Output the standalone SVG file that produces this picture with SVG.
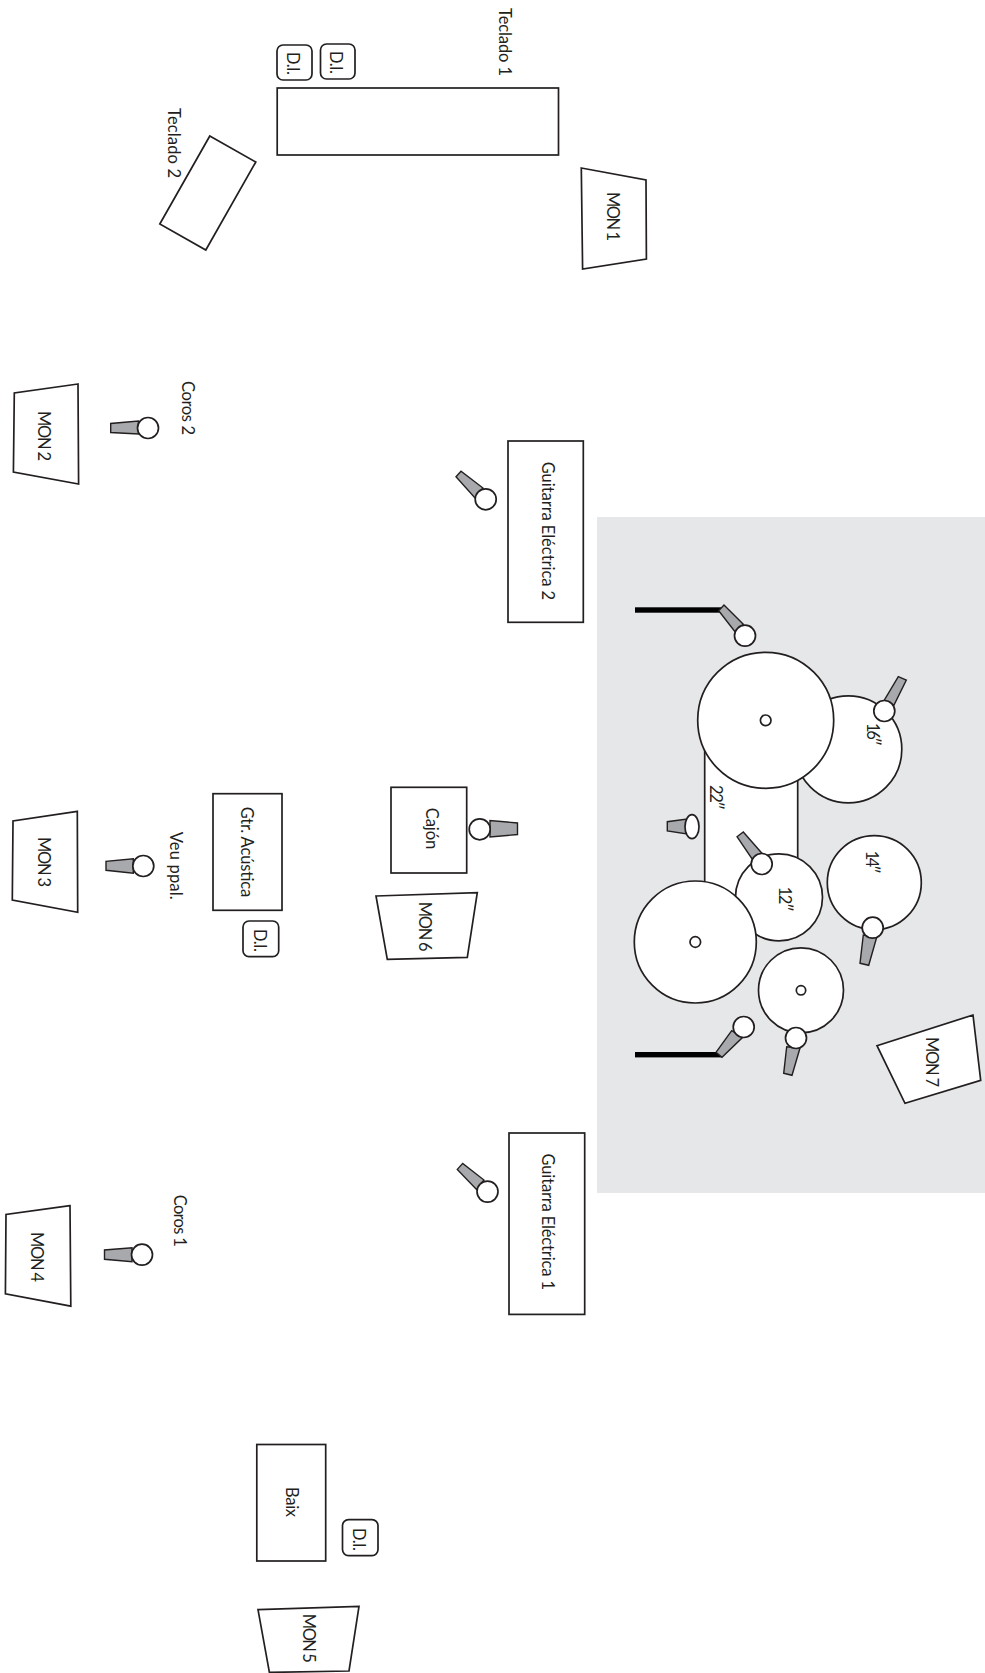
<svg xmlns="http://www.w3.org/2000/svg" width="985" height="1673" viewBox="0 0 985 1673">
<style>
.s{fill:#fff;stroke:#231f20;stroke-width:1.7}
.b{fill:#a7a9ac;stroke:#231f20;stroke-width:1.4}
.k{fill:#000}
text{font-family:"Lato","Noto Sans","Liberation Sans",sans-serif;font-size:16.5px;fill:#231f20}
</style>
<rect id="drum-riser" x="597" y="517" width="388" height="676" fill="#e6e7e8"/>
<g id="teclado-1">
<rect class="s" x="277.2" y="88" width="281.3" height="67"/>
<text transform="translate(499,8) rotate(90)" textLength="68">Teclado 1</text>
</g>
<g id="di-1"><rect class="s" x="277" y="45" width="35" height="35" rx="6"/><text transform="translate(287,52) rotate(90)" textLength="23">D.I.</text></g>
<g id="di-2"><rect class="s" x="320.5" y="44" width="34.5" height="35" rx="6"/><text transform="translate(330,51) rotate(90)" textLength="23">D.I.</text></g>
<g id="teclado-2">
<polygon class="s" points="209.8,136 255.8,162 205.8,250 159.8,224"/>
<text transform="translate(168,108) rotate(90)" textLength="70">Teclado 2</text>
</g>
<g id="mon-1"><polygon class="s" points="581.3,168 646,180 646.4,259 582.6,269"/><text transform="translate(606.5,192) rotate(90)" textLength="49">MON 1</text></g>
<g id="mon-2"><polygon class="s" points="78,384 14.3,393 13.4,472 78.6,484"/><text transform="translate(37.5,411) rotate(90)" textLength="50">MON 2</text></g>
<g id="coros-2">
<polygon class="b" points="110.7,423.5 110.7,432.5 138.4,434 138.4,421"/><circle class="s" cx="148" cy="428" r="10.5"/>
<text transform="translate(181.5,381) rotate(90)" textLength="54">Coros 2</text>
</g>
<g id="guitarra-2">
<polygon class="b" points="456,476.7 461,471.3 483,488 475,498"/><circle class="s" cx="485.7" cy="499.3" r="10.5"/>
<rect class="s" x="508" y="441" width="75.3" height="181.3"/>
<text transform="translate(541.5,461.7) rotate(90)" textLength="138.5">Guitarra Eléctrica 2</text>
</g>
<g id="overhead-1">
<rect class="k" x="635" y="607.3" width="87" height="5.4"/>
<polygon class="b" points="718.7,610.7 724,605 743.3,624.3 735,631.7"/><circle class="s" cx="745" cy="635.7" r="10.5"/>
</g>
<g id="tom-16">
<circle class="s" cx="848.3" cy="749.3" r="53.5"/>
<text transform="translate(866.5,723) rotate(90)" textLength="23">16″</text>
<polygon class="b" points="898.3,676.7 906.3,680 894,705 884,700.7"/><circle class="s" cx="884.3" cy="711" r="10.5"/>
</g>
<g id="bombo-22">
<rect class="s" x="704.7" y="740" width="93" height="165"/>
<text transform="translate(710,785) rotate(90)" textLength="25">22″</text>
<circle class="s" cx="765.7" cy="720.3" r="68"/><circle class="s" cx="765.7" cy="720.3" r="5.3"/>
<polygon class="b" points="667.3,821.7 667.3,831 687,834 687,819"/><ellipse class="s" cx="692" cy="826.7" rx="7" ry="12"/>
</g>
<g id="tom-12">
<circle class="s" cx="779" cy="897.3" r="43.5"/>
<text transform="translate(778.5,886.7) rotate(90)" textLength="25">12″</text>
<polygon class="b" points="737,836.7 743.3,832 761.7,853 753.3,860.7"/><circle class="s" cx="761.7" cy="864" r="10.5"/>
</g>
<g id="tom-14">
<circle class="s" cx="874.3" cy="882.7" r="47"/>
<text transform="translate(865.5,850.7) rotate(90)" textLength="23">14″</text>
<polygon class="b" points="860,963.3 868.7,965.3 876.7,937.3 863.3,935"/><circle class="s" cx="872.7" cy="927.7" r="10.5"/>
</g>
<g id="charles">
<circle class="s" cx="695.3" cy="942" r="61"/><circle class="s" cx="695.3" cy="942" r="5.3"/>
</g>
<g id="caixa">
<circle class="s" cx="801" cy="990.3" r="42.5"/><circle class="s" cx="801" cy="990.3" r="4.7"/>
<polygon class="b" points="783.7,1073.3 792,1075.3 800,1048 786.7,1046.7"/><circle class="s" cx="796" cy="1038" r="10.5"/>
</g>
<g id="overhead-2">
<rect class="k" x="635" y="1052" width="87" height="5.4"/>
<polygon class="b" points="716,1052.3 722,1057.3 742.7,1037.3 731.7,1030.7"/><circle class="s" cx="743.7" cy="1027" r="10.5"/>
</g>
<g id="mon-7"><polygon class="s" points="973,1015 877,1045.7 905,1103.3 980.7,1080.3"/><text transform="translate(926,1037) rotate(90)" textLength="50">MON 7</text></g>
<g id="mon-3"><polygon class="s" points="77.3,811.3 13,821 12.3,900 77.7,912.3"/><text transform="translate(38,837) rotate(90)" textLength="50">MON 3</text></g>
<g id="veu-ppal">
<polygon class="b" points="106,861.3 106,870.3 133.3,873.3 133.3,858.7"/><circle class="s" cx="143.3" cy="866" r="10.5"/>
<text transform="translate(169.5,831.7) rotate(90)" textLength="68">Veu ppal.</text>
</g>
<g id="gtr-acustica">
<rect class="s" x="213" y="793.7" width="69" height="116.6"/>
<text transform="translate(241,806.7) rotate(90)" textLength="90.5">Gtr. Acústica</text>
</g>
<g id="di-3"><rect class="s" x="243" y="921" width="35.7" height="35.7" rx="6"/><text transform="translate(254,929) rotate(90)" textLength="23">D.I.</text></g>
<g id="cajon">
<rect class="s" x="391" y="787.3" width="75.7" height="85.7"/>
<text transform="translate(425.5,807.7) rotate(90)" textLength="41.5">Cajón</text>
<polygon class="b" points="517.5,823 517.5,834.5 490,837 490,820.5"/><circle class="s" cx="479.7" cy="829.3" r="10.5"/>
</g>
<g id="mon-6"><polygon class="s" points="376,896 477.3,892.7 467.3,957.3 387.3,959.3"/><text transform="translate(418.5,901.7) rotate(90)" textLength="50">MON 6</text></g>
<g id="guitarra-1">
<polygon class="b" points="457.3,1169.4 462.7,1163.4 484,1180 476.5,1189.5"/><circle class="s" cx="487.5" cy="1191.6" r="10.5"/>
<rect class="s" x="509" y="1133" width="75.7" height="181.4"/>
<text transform="translate(542,1153.5) rotate(90)" textLength="136.5">Guitarra Eléctrica 1</text>
</g>
<g id="coros-1">
<polygon class="b" points="104.5,1250 104.5,1259.3 132,1261.8 132,1247.7"/><circle class="s" cx="142" cy="1254.7" r="10.5"/>
<text transform="translate(173.5,1194.8) rotate(90)" textLength="52">Coros 1</text>
</g>
<g id="mon-4"><polygon class="s" points="70,1205.7 6,1214.5 5.4,1293.9 70.8,1306.2"/><text transform="translate(30.5,1232) rotate(90)" textLength="50">MON 4</text></g>
<g id="baix">
<rect class="s" x="256.8" y="1444.5" width="68.9" height="116.5"/>
<text transform="translate(286,1487) rotate(90)" textLength="30">Baix</text>
</g>
<g id="di-4"><rect class="s" x="342.5" y="1519.6" width="35.5" height="36" rx="6"/><text transform="translate(353,1528) rotate(90)" textLength="23">D.I.</text></g>
<g id="mon-5"><polygon class="s" points="258,1609.6 359,1606.4 349,1671 269.4,1672.4"/><text transform="translate(302.5,1613.8) rotate(90)" textLength="49">MON 5</text></g>
</svg>
